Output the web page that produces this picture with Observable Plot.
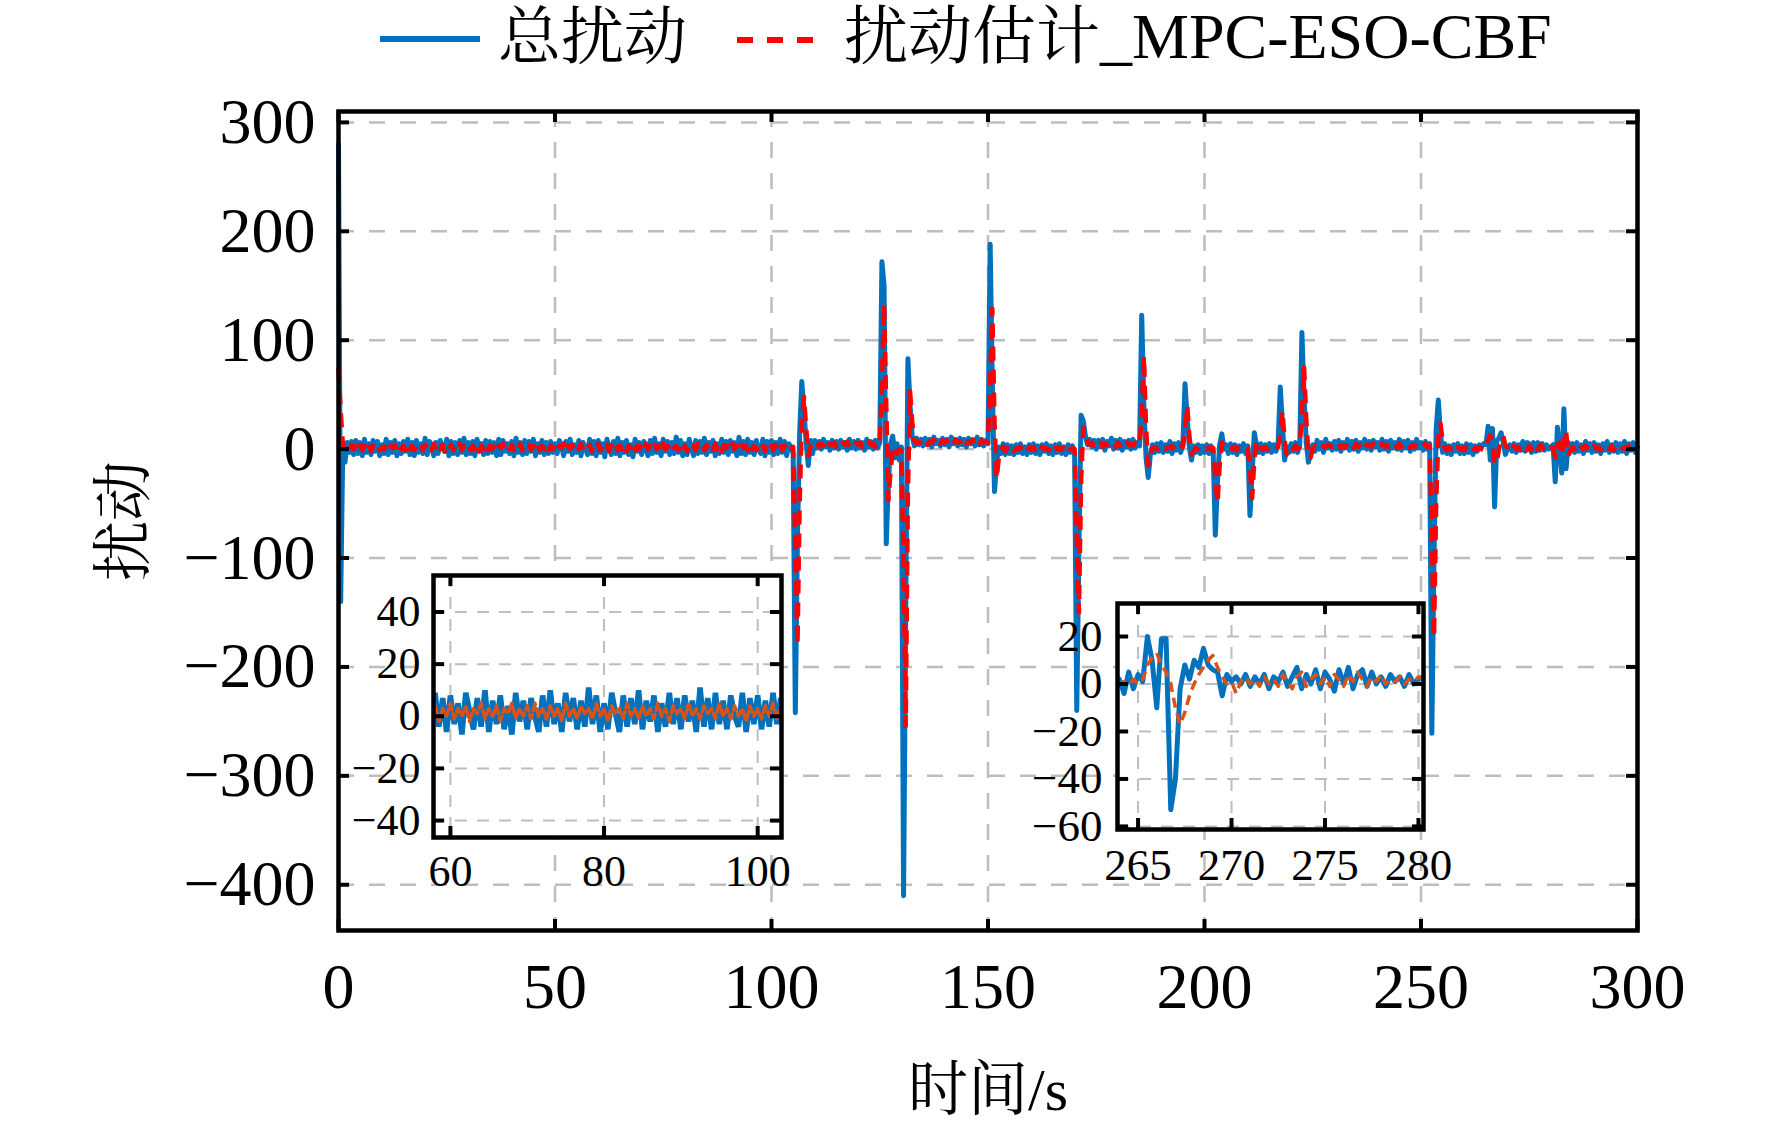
<!DOCTYPE html>
<html>
<head>
<meta charset="utf-8">
<script src="https://cdn.jsdelivr.net/npm/d3@7"></script>
<script src="https://cdn.jsdelivr.net/npm/@observablehq/plot@0.6"></script>
<style>
  body { margin: 0; background: #fff; }
  #fig { position: relative; width: 1772px; height: 1126px; overflow: hidden; background: #fff;
         font-family: "Liberation Serif", "Times New Roman", "Noto Serif CJK SC", "Noto Sans CJK SC", serif; color: #000; }
  #fig > .layer { position: absolute; }
</style>
</head>
<body>
<div id="fig"></div>
<script>
// ---------------- data ----------------
const STEP = 0.5;                       // s between samples of the main series
const segStarts = [0, 50, 100, 150, 200, 250];

// 总扰动 (total disturbance), 0.5 s samples, one row = 5 s
const total_000_050 = [
  280,-140,4,-12,6,-3,7,-5,8,-4,
  6,-6,9,-3,5,-5,8,-2,7,-6,
  4,-4,9,-5,6,-3,8,-6,5,-4,
  7,-2,9,-5,6,-6,8,-3,5,-4,
  10,-5,7,2,-6,6,-4,8,1,-2,
  9,-6,7,-4,6,-5,8,-3,10,-5,
  6,-4,7,-6,9,-2,5,-5,8,-4,
  7,-3,6,-6,9,-5,8,-2,5,-4,
  7,-6,10,-3,6,-5,8,-4,7,-2,
  9,-6,5,-3,8,-5,6,-4,7,-3];
const total_050_100 = [
  5,-4,8,3,-6,7,-2,9,-5,4,
  -3,8,-6,6,1,-5,9,-4,7,-6,
  8,-3,5,-7,9,2,-5,7,-4,10,
  -6,6,-3,8,-5,4,-7,9,-2,6,
  -5,7,0,-6,8,-4,10,-3,5,-6,
  9,-2,7,-5,6,-4,11,-3,8,-6,
  5,-5,9,1,-6,8,-4,7,-3,10,
  -5,6,-2,8,-6,5,-4,9,-3,7,
  -5,8,-2,6,-6,11,-4,7,-5,9,
  -3,6,-5,8,0,-4,9,-6,7,-3];
const total_100_150 = [
  8,-5,6,-4,9,-3,7,-6,5,2,
  -4,-242,-80,15,62,35,6,-15,8,-4,
  8,1,7,0,9,2,6,-1,8,1,
  7,0,8,2,6,-1,9,1,7,0,
  8,1,6,-1,9,2,7,0,8,1,
  6,172,150,-87,-30,5,12,-8,5,-10,
  2,-410,-150,83,40,12,3,10,4,9,
  3,10,4,9,2,11,5,8,3,10,
  4,9,2,11,5,8,3,10,4,9,
  2,10,5,8,3,11,4,9,3,8];
const total_150_200 = [
  5,188,60,-39,-12,2,-4,5,-5,4,
  -4,3,-5,4,-3,5,-4,2,-5,4,
  -3,5,-4,3,-5,4,-2,5,-4,3,
  -5,4,-3,5,-4,2,-5,4,-3,3,
  -3,-240,-90,31,26,12,4,9,2,8,
  0,8,2,9,-1,7,3,10,0,8,
  1,9,-1,7,2,8,0,9,1,6,
  3,123,40,-8,-26,-5,4,-3,5,-2,
  6,-3,4,-2,7,-4,5,-1,6,-3,
  4,60,28,2,-10,3,-3,4,-4,3];
const total_200_250 = [
  -3,4,-4,3,-2,-79,-30,4,14,0,
  4,-4,5,-3,4,-5,3,-2,5,-4,
  3,-61,-22,15,4,-3,5,-4,4,-2,
  5,-3,4,-2,6,57,22,-10,2,-3,
  5,-2,6,-3,4,107,48,6,-12,-4,
  4,-2,8,0,6,-3,9,1,5,-1,
  7,0,8,-2,6,1,9,-1,7,0,
  8,-2,6,1,9,0,7,-1,8,2,
  6,-1,9,0,7,-2,8,1,6,0,
  9,-1,7,1,8,-2,6,0,9,1];
const total_250_300 = [
  6,-1,7,0,5,-261,-100,18,45,14,
  -3,5,-4,3,-5,4,-2,5,-4,3,
  -4,5,-3,4,-5,3,-2,4,2,5,
  4,21,-10,19,-53,8,10,15,6,-5,
  1,4,-2,5,-3,4,-1,7,-2,6,
  5,-3,6,-2,6,-1,5,-1,4,0,
  2,4,-30,20,3,-22,37,-18,6,-2,
  5,-3,6,-2,4,-4,7,-1,5,-3,
  6,-2,4,-4,5,-1,7,-3,4,-2,
  6,-3,5,-2,7,-4,5,-1,6,-3,
  2];

// 扰动估计_MPC-ESO-CBF (estimate), same time grid
const est_000_050 = [
  75,35,5,0,3,-1,4,0,3,-1,
  4,-1,3,0,5,-2,3,1,4,-1,
  2,0,4,-1,3,1,4,-2,3,0,
  3,-1,5,0,3,-1,4,0,2,-1,
  4,0,3,-1,5,-1,3,0,4,-2,
  3,0,4,-1,3,0,5,-1,3,1,
  4,-1,3,0,5,-2,3,0,4,-1,
  3,0,4,-1,3,1,5,-1,3,0,
  4,-1,3,0,5,-1,3,1,4,-1,
  3,0,5,-1,3,0,4,-1,3,0];
const est_050_100 = [
  4,-1,3,1,5,-2,3,0,4,-1,
  3,0,5,-1,3,1,4,-2,3,0,
  5,-1,3,0,4,-2,3,1,5,-1,
  3,0,4,-2,3,1,5,-1,3,0,
  4,-1,5,0,3,-1,4,0,3,-2,
  5,0,3,-1,4,1,3,-1,5,0,
  3,-2,4,1,3,-1,5,0,3,-1,
  4,0,3,-1,5,0,3,-2,4,1,
  3,-1,5,0,3,-1,4,1,3,-1,
  5,0,3,-1,4,0,3,-2,4,0];
const est_100_150 = [
  3,-1,4,0,5,-1,3,0,4,1,
  2,-90,-180,-50,25,48,20,-6,2,5,
  3,6,2,5,3,7,2,5,4,6,
  2,5,3,6,4,7,2,5,3,6,
  4,6,2,5,3,7,4,5,2,5,
  4,60,133,40,-47,-20,-2,3,-4,0,
  -2,-100,-254,-40,53,25,8,5,7,6,
  5,8,4,7,6,9,4,7,5,8,
  6,8,4,7,5,9,6,7,4,8,
  5,7,6,9,4,7,5,8,6,7];
const est_150_200 = [
  6,60,129,25,-27,-8,0,2,-2,1,
  -1,2,-2,1,0,2,-1,1,-2,2,
  0,2,-1,1,-2,2,0,1,-1,2,
  -2,1,0,2,-1,1,-2,2,0,1,
  0,-80,-150,-30,20,15,6,4,6,3,
  5,3,6,2,5,4,6,3,5,2,
  6,3,5,2,6,4,5,3,6,4,
  4,30,86,20,-15,-6,1,2,0,2,
  1,3,0,2,1,3,-1,2,1,3,
  2,15,40,12,-5,-2,1,0,2,0];
const est_200_250 = [
  1,0,2,0,1,-25,-50,-15,6,3,
  0,2,1,0,2,-1,1,0,2,1,
  1,-20,-45,-10,8,2,1,0,2,0,
  2,0,1,0,2,15,35,8,-5,-1,
  2,0,3,0,2,35,75,28,-5,-8,
  0,3,2,4,1,3,2,4,3,2,
  4,2,5,1,3,2,5,2,4,1,
  5,2,4,1,5,3,4,2,5,3,
  4,1,5,2,4,2,5,3,4,1,
  5,2,4,3,5,1,4,2,5,3];
const est_250_300 = [
  4,2,5,2,3,-80,-173,-50,10,23,
  8,1,-1,2,0,1,-2,2,0,1,
  -1,2,0,1,-2,1,0,2,0,-1,
  0,8,13,5,-14,-12,0,7,12,3,
  1,-3,1,3,0,2,-1,3,1,-1,
  3,-1,4,1,-1,4,2,-1,3,1,
  2,1,-8,4,6,-5,8,17,-6,-2,
  2,0,3,-1,2,0,3,1,2,-1,
  3,0,2,-1,3,1,2,0,3,-1,
  2,0,3,1,2,-1,3,0,2,1,
  1];

// detail for the 264–280 s inset, 0.25 s samples starting at 264 s
const ZOOM_START = 264, ZOOM_STEP = 0.25;
const zoomTotal = [2,-4,5,-2,4,1,20,10,-10,19,19,-53,-40,-2,8,2,10,7,15,8,6,5,-5,4,1,3,0,4,-1,3,0,4,-2,3,1,5,-1,3,7,-2,4,0,6,-2,5,2,-3,6,0,7,-2,4,6,-1,5,0,3,-1,4,1,3,-1,4,0,2,3];
const zoomEst   = [0,1,-1,2,0,2,8,11,13,8,5,0,-10,-17,-12,-5,0,4,7,10,12,7,3,0,1,-4,1,3,0,2,-1,3,0,2,-1,4,1,-2,3,5,-1,2,4,0,3,-1,4,2,-1,4,1,5,2,-1,3,1,4,0,2,1,3,0,2,1,3,2];

// ticks
const mainXTicks = [0, 50, 100, 150, 200, 250, 300];
const mainYTicks = [-400, -300, -200, -100, 0, 100, 200, 300];
const inset1XTicks = [60, 80, 100];
const inset1YTicks = [-40, -20, 0, 20, 40];
const inset2XTicks = [265, 270, 275, 280];
const inset2YTicks = [-60, -40, -20, 0, 20];

const seriesNames = ["总扰动", "扰动估计_MPC-ESO-CBF"];
const xLabel = "时间/s", yLabel = "扰动";

// ---------------- build tables ----------------
function rowsFrom(segs) {
  const out = [];
  segs.forEach((vals, k) => vals.forEach((v, i) => out.push({t: segStarts[k] + i * STEP, v})));
  return out;
}
const totalRows = rowsFrom([total_000_050, total_050_100, total_100_150, total_150_200, total_200_250, total_250_300]);
const estRows = rowsFrom([est_000_050, est_050_100, est_100_150, est_150_200, est_200_250, est_250_300]);
const zTotalRows = zoomTotal.map((v, i) => ({t: ZOOM_START + i * ZOOM_STEP, v}));
const zEstRows = zoomEst.map((v, i) => ({t: ZOOM_START + i * ZOOM_STEP, v}));

const FONT = '"Liberation Serif", "Times New Roman", "Noto Serif CJK SC", "Noto Sans CJK SC", serif';
const BLUE = "#0072BD", RED = "#FF0000", ORANGE = "#D95319", GRID = "#bdbdbd";
const fmt = d => d < 0 ? "\u2212" + Math.abs(d) : String(d);

function framedTicks(xt, yt, fw, fh, len, sw) {
  return [
    Plot.tickY(yt, {y: d => d, insetRight: fw - len, stroke: "#000", strokeWidth: sw}),
    Plot.tickY(yt, {y: d => d, insetLeft: fw - len, stroke: "#000", strokeWidth: sw}),
    Plot.tickX(xt, {x: d => d, insetTop: fh - len, stroke: "#000", strokeWidth: sw}),
    Plot.tickX(xt, {x: d => d, insetBottom: fh - len, stroke: "#000", strokeWidth: sw})
  ];
}

const fig = document.getElementById("fig");
function place(node, left, top) {
  const d = document.createElement("div");
  d.className = "layer";
  d.style.left = left + "px";
  d.style.top = top + "px";
  d.appendChild(node);
  fig.appendChild(d);
}

// ---------------- main chart ----------------
const W = 1772, H = 1126;
const mL = 338, mR = 135, mT = 111, mB = 196;
const fw = W - mL - mR, fh = H - mT - mB;
const main = Plot.plot({
  width: W, height: H,
  marginLeft: mL, marginRight: mR, marginTop: mT, marginBottom: mB,
  style: {fontFamily: FONT, background: "transparent", color: "#000"},
  x: {domain: [0, 300], axis: null},
  y: {domain: [-442, 310], axis: null},
  marks: [
    Plot.gridX(mainXTicks.slice(1, -1), {stroke: GRID, strokeOpacity: 1, strokeWidth: 2.5, strokeDasharray: "16,15"}),
    Plot.gridY(mainYTicks, {stroke: GRID, strokeOpacity: 1, strokeWidth: 2.5, strokeDasharray: "16,15"}),
    Plot.line(totalRows, {x: "t", y: "v", stroke: BLUE, strokeWidth: 5}),
    Plot.line(estRows, {x: "t", y: "v", stroke: RED, strokeWidth: 4.5, strokeDasharray: "14,9", strokeLinecap: "butt"}),
    ...framedTicks(mainXTicks, mainYTicks, fw, fh, 11, 4),
    Plot.frame({stroke: "#000", strokeWidth: 4.5}),
    Plot.axisX(mainXTicks, {anchor: "bottom", tickSize: 0, tickPadding: 32, fontSize: 64, tickFormat: fmt, label: null}),
    Plot.axisY(mainYTicks, {anchor: "left", tickSize: 0, tickPadding: 23, fontSize: 64, tickFormat: fmt, label: null}),
    Plot.text([xLabel], {frameAnchor: "bottom", dy: 160, textAnchor: "middle", lineAnchor: "middle", fontSize: 60, fill: "#000"}),
    Plot.text([yLabel], {frameAnchor: "left", dx: -214, rotate: -90, textAnchor: "middle", lineAnchor: "middle", fontSize: 60, fill: "#000"})
  ]
});
place(main, 0, 0);

// ---------------- inset 1 : 60–100 s ----------------
{
  const iL = 100, iR = 40, iT = 10, iB = 70;
  const ifw = 348, ifh = 262;
  const ins = Plot.plot({
    width: iL + ifw + iR, height: iT + ifh + iB,
    marginLeft: iL, marginRight: iR, marginTop: iT, marginBottom: iB,
    style: {fontFamily: FONT, background: "transparent", color: "#000"},
    x: {domain: [57.8, 103.1], axis: null},
    y: {domain: [-46.5, 54], axis: null},
    marks: [
      Plot.frame({fill: "#fff", stroke: "none"}),
      Plot.gridX(inset1XTicks, {stroke: GRID, strokeOpacity: 1, strokeWidth: 2, strokeDasharray: "12,10"}),
      Plot.gridY(inset1YTicks, {stroke: GRID, strokeOpacity: 1, strokeWidth: 2, strokeDasharray: "12,10"}),
      Plot.line(totalRows.filter(d => d.t >= 57 && d.t <= 104), {x: "t", y: "v", stroke: BLUE, strokeWidth: 5.5, strokeLinejoin: "miter", clip: true}),
      Plot.line(estRows.filter(d => d.t >= 57 && d.t <= 104), {x: "t", y: "v", stroke: ORANGE, strokeWidth: 3.5, strokeDasharray: "9,4", clip: true}),
      ...framedTicks(inset1XTicks, inset1YTicks, ifw, ifh, 11, 4),
      Plot.frame({stroke: "#000", strokeWidth: 4.5}),
      Plot.axisX(inset1XTicks, {anchor: "bottom", tickSize: 0, tickPadding: 17, fontSize: 44, tickFormat: fmt, label: null}),
      Plot.axisY(inset1YTicks, {anchor: "left", tickSize: 0, tickPadding: 13, fontSize: 44, tickFormat: fmt, label: null})
    ]
  });
  place(ins, 433 - iL, 575 - iT);
}

// ---------------- inset 2 : 265–280 s ----------------
{
  const iL = 100, iR = 50, iT = 10, iB = 70;
  const ifw = 306, ifh = 226;
  const ins = Plot.plot({
    width: iL + ifw + iR, height: iT + ifh + iB,
    marginLeft: iL, marginRight: iR, marginTop: iT, marginBottom: iB,
    style: {fontFamily: FONT, background: "transparent", color: "#000"},
    x: {domain: [263.9, 280.27], axis: null},
    y: {domain: [-61.3, 33.9], axis: null},
    marks: [
      Plot.frame({fill: "#fff", stroke: "none"}),
      Plot.gridX(inset2XTicks, {stroke: GRID, strokeOpacity: 1, strokeWidth: 2, strokeDasharray: "12,10"}),
      Plot.gridY(inset2YTicks, {stroke: GRID, strokeOpacity: 1, strokeWidth: 2, strokeDasharray: "12,10"}),
      Plot.line(zTotalRows, {x: "t", y: "v", stroke: BLUE, strokeWidth: 5, clip: true}),
      Plot.line(zEstRows, {x: "t", y: "v", stroke: ORANGE, strokeWidth: 3.5, strokeDasharray: "10,6", strokeLinecap: "butt", clip: true}),
      ...framedTicks(inset2XTicks, inset2YTicks, ifw, ifh, 11, 4),
      Plot.frame({stroke: "#000", strokeWidth: 4.5}),
      Plot.axisX(inset2XTicks, {anchor: "bottom", tickSize: 0, tickPadding: 19, fontSize: 45, tickFormat: fmt, label: null}),
      Plot.axisY(inset2YTicks, {anchor: "left", tickSize: 0, tickPadding: 15, fontSize: 45, tickFormat: fmt, label: null})
    ]
  });
  place(ins, 1117 - iL, 603 - iT);
}

// ---------------- legend ----------------
{
  const ns = "http://www.w3.org/2000/svg";
  const svg = document.createElementNS(ns, "svg");
  svg.setAttribute("width", W);
  svg.setAttribute("height", 100);
  svg.style.fontFamily = FONT;
  const items = [
    {x1: 380, x2: 480, y: 39, color: BLUE, dash: null, tx: 498, size: 63, name: seriesNames[0]},
    {x1: 737, x2: 815, y: 40, color: RED, dash: "16,14", tx: 844, size: 64, name: seriesNames[1]}
  ];
  for (const it of items) {
    const ln = document.createElementNS(ns, "line");
    ln.setAttribute("x1", it.x1); ln.setAttribute("x2", it.x2);
    ln.setAttribute("y1", it.y); ln.setAttribute("y2", it.y);
    ln.setAttribute("stroke", it.color); ln.setAttribute("stroke-width", 6);
    if (it.dash) ln.setAttribute("stroke-dasharray", it.dash);
    svg.appendChild(ln);
    const tx = document.createElementNS(ns, "text");
    tx.setAttribute("x", it.tx); tx.setAttribute("y", 58);
    tx.setAttribute("font-size", it.size); tx.setAttribute("fill", "#000");
    tx.textContent = it.name;
    svg.appendChild(tx);
  }
  place(svg, 0, 0);
}
</script>
</body>
</html>
